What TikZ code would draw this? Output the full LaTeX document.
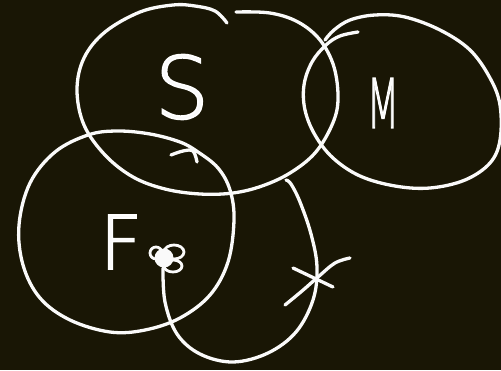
\documentclass[tikz,border=0pt]{standalone}
\usepackage{fontspec}
\newfontfamily\hand{DejaVu Sans ExtraLight}
\definecolor{board}{RGB}{25,22,5}
\definecolor{chalk}{RGB}{250,250,250}
\newcommand{\thick}[1]{\special{pdf:literal direct 2 Tr 1.6 w 1 1 1 RG}#1\special{pdf:literal direct 0 Tr}}
\begin{document}
\begin{tikzpicture}[x=1pt,y=-1pt,
  pen/.style={draw=chalk,line width=3.3pt,line cap=round,line join=round},
  lbl/.style={text=chalk,inner sep=0pt,font=\hand}]
\fill[board] (0,0) rectangle (501,370);
\useasboundingbox (0,0) rectangle (501,370);
% S set
\draw[pen] plot[smooth,tension=0.6] coordinates {(227,23) (215,11) (195,6) (173,5) (140,12) (105,32) (84,58) (77,90) (84,125) (105,155) (133,177) (165,189) (200,194) (233,193) (262,186) (290,173) (315,153) (332,125) (338,100) (334,67) (320,40) (298,22) (270,13) (236,12)};
% M set
\draw[pen] plot[smooth,tension=0.6] coordinates {(358,32) (340,36) (326,45) (312,62) (304,85) (305,110) (315,135) (333,158) (360,176) (395,186) (430,188) (465,180) (490,163) (500,140) (500,105) (490,78) (470,50) (440,30) (405,17) (375,15) (350,20) (334,30) (325,40)};
% F set
\draw[pen] plot[smooth cycle,tension=0.6] coordinates {(150,134) (117,131) (88,135) (55,152) (30,183) (19,225) (23,265) (40,298) (70,320) (110,332) (145,330) (180,318) (210,295) (228,262) (234,220) (230,190) (218,168) (198,152) (180,142)};
\draw[pen] plot[smooth,tension=0.6] coordinates {(171,155) (183,151) (193,151) (197,162)};
% X set
\draw[pen] plot[smooth,tension=0.6] coordinates {(286,180) (291,184) (300,202) (311,234) (317,267) (313,300) (296,332) (268,353) (233,362) (200,354) (177,334) (165,302) (163,268)};
% dot
\fill[chalk] (164,258) circle (9.5);
\draw[pen,line width=2.8pt] (174,252) ellipse [x radius=10,y radius=7];
\draw[pen,line width=2.8pt] (173,266) ellipse [x radius=9,y radius=6];
\draw[pen,line width=2.8pt] (156,253) circle (6);
% x mark
\draw[pen] plot[smooth,tension=0.6] coordinates {(285,305) (302,291) (318,277) (335,263) (350,258)};
\draw[pen] (293,268) -- (333,287);
% labels
\node[lbl,font=\hand\fontsize{86}{86}\selectfont] (s) at (182,87) {\thick{S}};
\node[lbl,font=\hand\fontsize{74}{74}\selectfont] (f) at (121,242) {\thick{F}};
\node[lbl,font=\hand\fontsize{68}{68}\selectfont,xscale=0.55] (m) at (383,103) {\thick{M}};
\end{tikzpicture}
\end{document}
